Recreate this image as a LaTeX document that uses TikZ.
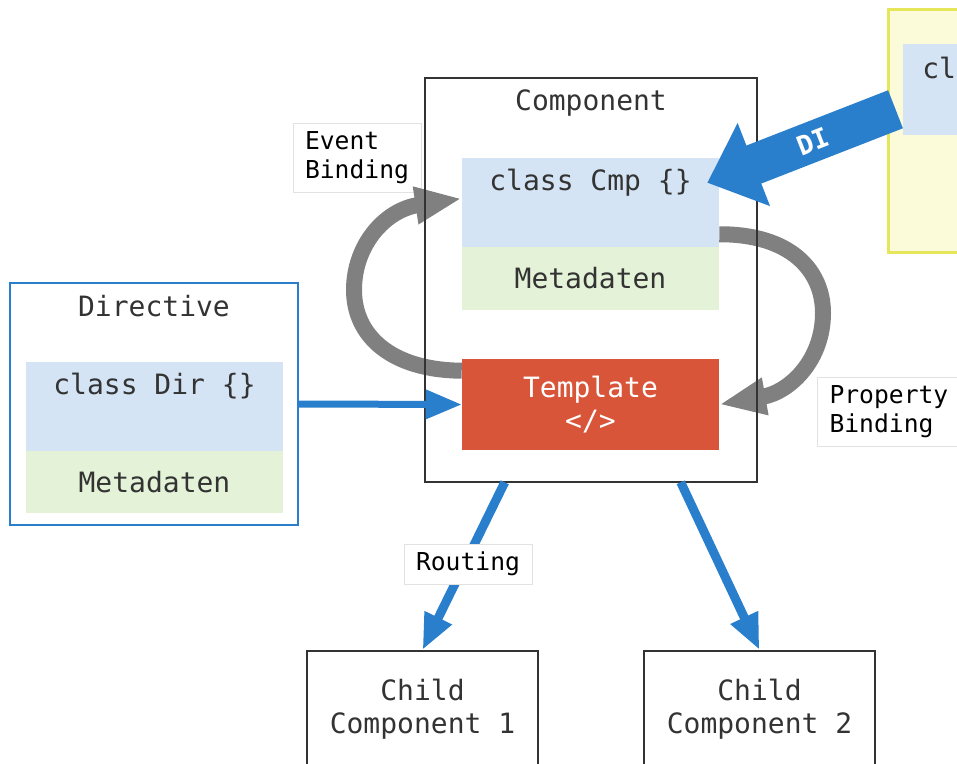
\documentclass[tikz,border=0pt]{standalone}
\usepackage{fontspec}
\setmonofont{DejaVu Sans Mono}
\usepackage{xcolor}
\usetikzlibrary{arrows.meta,calc}

\definecolor{clsblue}{HTML}{D4E4F4}
\definecolor{metagreen}{HTML}{E4F2D8}
\definecolor{tplred}{HTML}{D8553A}
\definecolor{linkblue}{HTML}{2A7FCC}
\definecolor{bindgray}{HTML}{808080}
\definecolor{svcyellow}{HTML}{FBFBDA}
\definecolor{svcborder}{HTML}{E6E65A}
\definecolor{darktext}{HTML}{333333}
\definecolor{labelline}{HTML}{E2E2E2}

\begin{document}
\begin{tikzpicture}[x=0.75pt, y=-0.75pt,
        every node/.style={font=\ttfamily\fontsize{21}{24.5}\selectfont, text=darktext},
        box/.style 2 args={minimum width=#1*0.75pt, minimum height=#2*0.75pt, inner sep=0pt},
        frame/.style={draw=darktext, line width=1.5pt},
        tag/.style={fill=white, draw=labelline, line width=0.75pt, align=left, text=black,
          font=\ttfamily\fontsize{18.5}{21.75}\selectfont},
        bind/.style={line width=12pt, bindgray, -{Triangle[length=35pt,width=26pt]}},
        link/.style={line width=5.25pt, linkblue, -{Triangle[length=27pt,width=21pt]}}]

        \useasboundingbox (0,0) rectangle (957,764);
        \clip (0,0) rectangle (957,764);

        % Service box (cut off at the right)
        \node[fill=svcyellow, draw=svcborder, line width=2.25pt, anchor=north west, box={250}{243}] (svc) at (887,8) {};
        \node[fill=clsblue, anchor=north west, box={200}{91}] (svccls) at (903,44) {};
        \node[anchor=west, inner sep=0pt] (svctxt) at (922,68) {cl};

        % Component with class, metadata and template
        \node[box={332}{404}] (comp) at (591,280) {};
        \node (comptitle) at (591,103) {Component};
        \node[fill=clsblue, box={257}{89}] (cmpcls) at (590.5,202.5) {};
        \node (cmptxt) at (590.5,183) {class Cmp \{\}};
        \node[fill=metagreen, box={257}{63}] (meta1) at (590.5,278.5) {Metadaten};
        \node[fill=tplred, box={257}{91}, text=white, align=center] (tmpl) at (590.5,404.5) {Template\\</>};

        % Directive
        \node[draw=linkblue, line width=1.5pt, box={288}{242}] (dir) at (154,404) {};
        \node (dirtitle) at (154,306) {Directive};
        \node[fill=clsblue, box={257}{89}] (dircls) at (154.5,406.5) {};
        \node (dirtxt) at (154.5,386) {class Dir \{\}};
        \node[fill=metagreen, box={257}{62}] (meta2) at (154.5,482) {Metadaten};

        % Child components
        \node[frame, box={231}{116}, align=center] (child1) at (422.5,709) {Child\\Component 1};
        \node[frame, box={231}{116}, align=center] (child2) at (759.5,709) {Child\\Component 2};

        % Binding labels
        \node[tag, box={128}{69}] (evtag) at (357,157.5) {Event\\Binding};
        \node[tag, anchor=west, minimum height=69*0.75pt, inner xsep=9pt] (proptag) at (817,412) {Property\\Binding};

        % Event binding (template -> class)
        \draw[bind] ($(tmpl.north west)+(0,12)$) .. controls (390,370) and (354,335) .. (354,290)
          .. controls (354,245) and (385,210) .. ($(cmpcls.west)+(0,-4)$);

        % Property binding (class -> template)
        \draw[bind] ($(cmpcls.south east)+(0,-13)$) .. controls (790,234) and (823,270) .. (823,313)
          .. controls (823,360) and (790,392) .. (tmpl.east);

        % Component frame on top of the bindings
        \draw[frame] (comp.north west) rectangle (comp.south east);

        % Directive applied to template
        \draw[link] (dir.east) -- (tmpl.west);

        % Routing to the children
        \draw[link, line width=6.75pt] ($(comp.south west)+(80,0)$) -- (child1.north);
        \node[tag, box={128}{40}] (routtag) at (468,564) {Routing};
        \draw[link, line width=6.75pt] ($(comp.south west)+(256,0)$) -- (child2.north);

        % Dependency injection
        \draw[line width=30.6pt, linkblue, -{Triangle[length=37.5pt,width=64.5pt]}]
          ($(svccls.west)+(-7.5,19.5)$) -- node[sloped, pos=0.44, text=white,
          font=\ttfamily\bfseries\fontsize{20}{22}\selectfont] (ditxt) {DI} ($(cmpcls.north east)+(-12,25)$);

      \end{tikzpicture}
\end{document}
